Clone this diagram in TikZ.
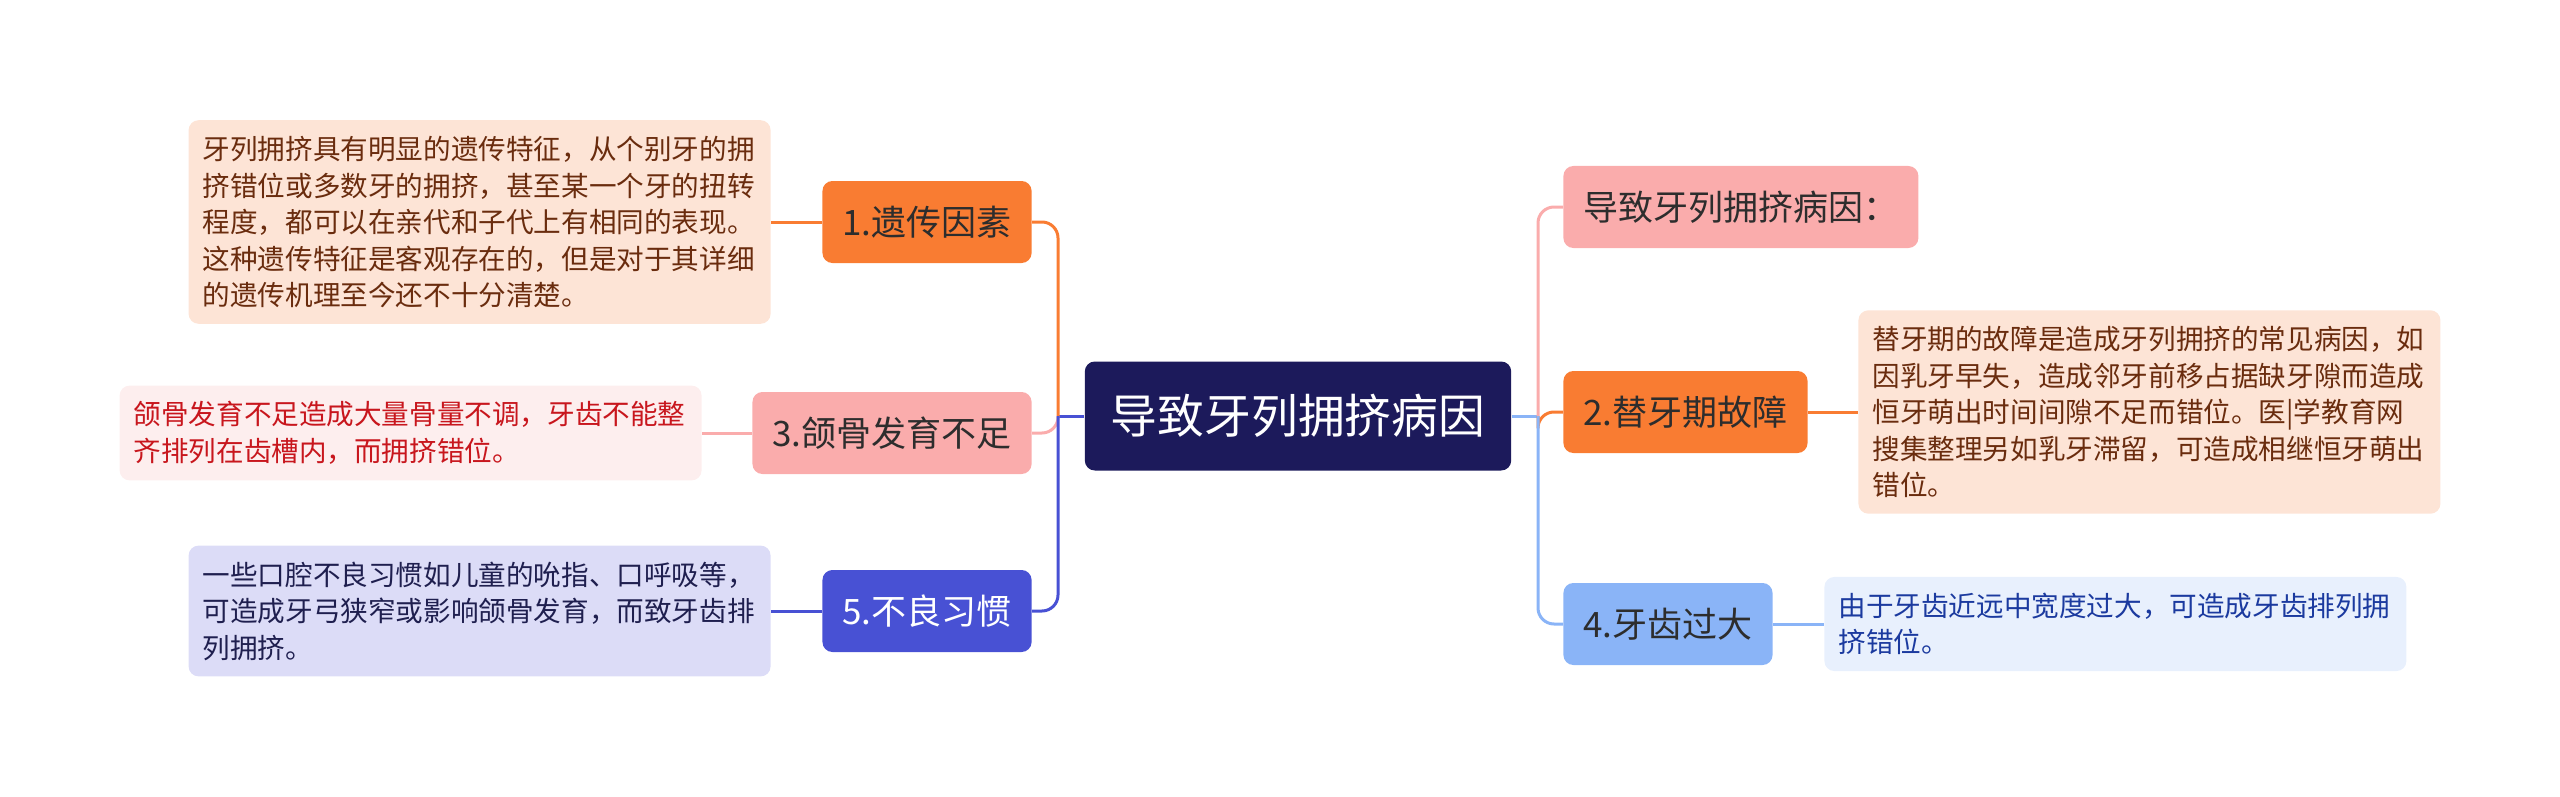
\documentclass[tikz,border=0pt]{standalone}
\usepackage{fontspec}
\newfontfamily\cjk{Noto Sans CJK SC}
\begin{document}
\begin{tikzpicture}[x=0.5pt,y=-0.5pt,line join=round,
  topic/.style={rounded corners=5pt,minimum height=41pt,inner xsep=10pt,inner ysep=0pt,text=topicT,font=\cjk\fontsize{17.5}{21}\selectfont},
  note/.style={rounded corners=5pt,align=left,text width=277pt,inner xsep=7pt,inner ysep=8pt,font=\cjk\fontsize{13.8}{18.25}\selectfont},
  link/.style={line width=1.5pt,rounded corners=8pt}]
\definecolor{rootC}{HTML}{1C1A5B}
\definecolor{topicT}{HTML}{2D2D2D}
\definecolor{orangeC}{HTML}{F97C32}
\definecolor{pinkC}{HTML}{FAACAC}
\definecolor{violetC}{HTML}{4851D4}
\definecolor{skyC}{HTML}{8AB4F7}
\definecolor{peachF}{HTML}{FDE4D6}
\definecolor{peachT}{HTML}{6A2C0E}
\definecolor{roseF}{HTML}{FDEEEE}
\definecolor{roseT}{HTML}{C8161D}
\definecolor{lilacF}{HTML}{DCDCF7}
\definecolor{lilacT}{HTML}{1F1F4F}
\definecolor{iceF}{HTML}{E8F0FD}
\definecolor{iceT}{HTML}{1B3A9F}
\useasboundingbox (0,0) rectangle (2560,797);
% centre
\node[topic,fill=rootC,text=white,minimum height=54.5pt,inner xsep=13pt,font=\cjk\fontsize{23.4}{28}\selectfont] (root) at (1298,416) {导致牙列拥挤病因};
% left branches
\node[topic,fill=orangeC,anchor=east] (n1) at (1032,222) {1.遗传因素};
\node[topic,fill=pinkC,anchor=east] (n3) at (1032,433) {3.颌骨发育不足};
\node[topic,fill=violetC,text=white,anchor=east] (n5) at (1032,611) {5.不良习惯};
% right branches
\node[topic,fill=pinkC,anchor=west] (n0) at (1563,207) {导致牙列拥挤病因：};
\node[topic,fill=orangeC,anchor=west] (n2) at (1563,412) {2.替牙期故障};
\node[topic,fill=skyC,anchor=west] (n4) at (1563,624) {4.牙齿过大};
% notes
\node[note,fill=peachF,text=peachT,anchor=east] (t1) at (771,222) {牙列拥挤具有明显的遗传特征，从个别牙的拥\\挤错位或多数牙的拥挤，甚至某一个牙的扭转\\程度，都可以在亲代和子代上有相同的表现。\\这种遗传特征是客观存在的，但是对于其详细\\的遗传机理至今还不十分清楚。};
\node[note,fill=roseF,text=roseT,anchor=east] (t3) at (702,433) {颌骨发育不足造成大量骨量不调，牙齿不能整\\齐排列在齿槽内，而拥挤错位。};
\node[note,fill=lilacF,text=lilacT,anchor=east] (t5) at (771,611) {一些口腔不良习惯如儿童的吮指、口呼吸等，\\可造成牙弓狭窄或影响颌骨发育，而致牙齿排\\列拥挤。};
\node[note,fill=peachF,text=peachT,anchor=west] (t2) at (1858,412) {替牙期的故障是造成牙列拥挤的常见病因，如\\因乳牙早失，造成邻牙前移占据缺牙隙而造成\\恒牙萌出时间间隙不足而错位。医|学教育网\\搜集整理另如乳牙滞留，可造成相继恒牙萌出\\错位。};
\node[note,fill=iceF,text=iceT,anchor=west] (t4) at (1824,624) {由于牙齿近远中宽度过大，可造成牙齿排列拥\\挤错位。};
% connectors
\coordinate (jl) at (1058,416);
\coordinate (jr) at (1538,416);
\draw[link,violetC] (root.west) -- (jl);
\draw[link,orangeC] (jl) |- (n1.east);
\draw[link,pinkC] (jl) |- (n3.east);
\draw[link,violetC] (jl) |- (n5.east);
\draw[link,skyC] (root.east) -- (jr);
\draw[link,pinkC] (jr) |- (n0.west);
\draw[link,orangeC] (jr) |- (n2.west);
\draw[link,skyC] (jr) |- (n4.west);
\draw[link,orangeC] (n1.west) -- (t1.east);
\draw[link,pinkC] (n3.west) -- (t3.east);
\draw[link,violetC] (n5.west) -- (t5.east);
\draw[link,orangeC] (n2.east) -- (t2.west);
\draw[link,skyC] (n4.east) -- (t4.west);
\end{tikzpicture}
\end{document}
